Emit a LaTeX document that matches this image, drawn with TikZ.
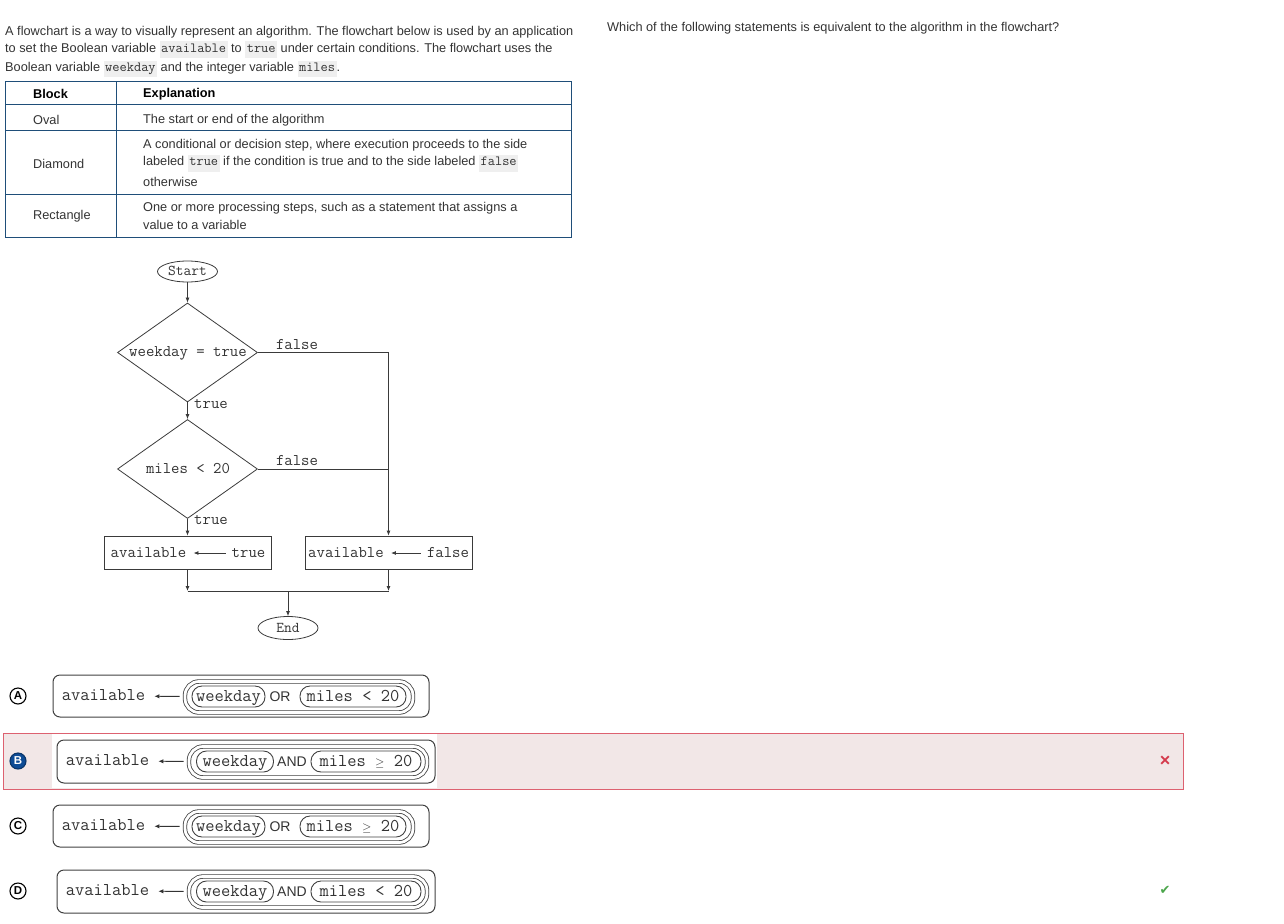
\documentclass[tikz,border=0pt]{standalone}
\usepackage{amsmath,fontspec}
\setmainfont{Liberation Sans}
\newfontfamily\symfont{DejaVu Sans}
\usetikzlibrary{shapes.geometric,arrows.meta,positioning}

\definecolor{txt}{HTML}{333333}
\definecolor{tblline}{HTML}{1F4E79}
\definecolor{codebg}{HTML}{EFEFEF}
\definecolor{wrongfill}{HTML}{F2E7E7}
\definecolor{wrongline}{HTML}{DD6170}
\definecolor{pickblue}{HTML}{0E4C96}
\definecolor{crossred}{HTML}{D4394B}
\definecolor{tickgreen}{HTML}{4CA64C}
\definecolor{flowgray}{HTML}{3A3A3A}

\newcommand{\code}[1]{{\setlength{\fboxsep}{1.5pt}\colorbox{codebg}{\fontsize{14}{14}\ttfamily\strut #1}}}
\newcommand{\smallge}{{\fontsize{13}{13}\selectfont$\ge$}}

\tikzset{
  para/.style={anchor=west,inner sep=0pt,text=txt,font=\fontsize{12.75}{14}\selectfont},
  head/.style={para,text=black,font=\fontsize{12.75}{14}\selectfont\bfseries},
  term/.style={ellipse,draw=flowgray,line width=.8pt,minimum width=60pt,minimum height=21pt,inner sep=0pt,text height=10.5pt,text depth=2pt,text=txt,font=\fontsize{15}{15}\ttfamily},
  decision/.style={diamond,draw=flowgray,line width=.8pt,minimum width=140pt,minimum height=99pt,inner sep=0pt},
  process/.style={rectangle,draw=flowgray,line width=.8pt,minimum width=167pt,minimum height=33pt,inner sep=0pt},
  fctext/.style={inner sep=2pt,text height=11pt,text depth=2pt,text=txt,font=\fontsize{16.3}{16}\ttfamily},
  link/.style={draw=flowgray,line width=.8pt},
  flow/.style={link,-{Latex[length=5pt,width=4pt]}},
  asg/.style={link,-{Latex[length=5pt,width=4pt]},shorten >=5pt,shorten <=4pt},
  optbox/.style={draw=black!75,line width=1pt,rounded corners=7pt,minimum height=42pt,inner sep=0pt},
  pill/.style={draw=black!75,line width=.9pt,rounded corners=10pt,minimum height=21pt,inner sep=0pt,text height=11.5pt,text depth=2.5pt,text=txt,font=\fontsize{18}{18}\ttfamily},
  outerpill/.style={draw=black!75,line width=.8pt,double,double distance=2.8pt,rounded corners=14pt,minimum height=31pt,inner sep=0pt},
  optcode/.style={inner sep=2pt,text height=11.5pt,text depth=2.5pt,text=txt,font=\fontsize{18}{18}\ttfamily},
  optword/.style={inner sep=0pt,text height=12.5pt,text depth=2pt,text=txt,font=\fontsize{14}{14}\selectfont},
  optasg/.style={draw=black!80,line width=.9pt,-{Latex[length=5pt,width=4.5pt]},shorten >=7pt,shorten <=5pt},
  letter/.style={circle,draw=black,line width=1.1pt,minimum size=16pt,inner sep=0pt,font=\fontsize{11.5}{11}\selectfont\bfseries},
}

\begin{document}
\begin{tikzpicture}[x=1pt,y=-1pt]
\path[use as bounding box] (0,0) rectangle (1284,923);

% question text
\node[para] (p1) at (5,32) {A flowchart is a way to visually represent an algorithm. The flowchart below is used by an application};
\node[para] (p2) at (5,50) {to set the Boolean variable \code{available} to \code{true} under certain conditions. The flowchart uses the};
\node[para] (p3) at (5,69) {Boolean variable \code{weekday} and the integer variable \code{miles}.};
\node[para] (ask) at (607,28) {Which of the following statements is equivalent to the algorithm in the flowchart?};

% table
\draw[tblline,line width=1pt] (5,82) rectangle (571,237);
\draw[tblline,line width=1pt] (5,105) -- (571,105);
\draw[tblline,line width=1pt] (5,131) -- (571,131);
\draw[tblline,line width=1pt] (5,194) -- (571,194);
\draw[tblline,line width=1pt] (116,82) -- (116,237);
\node[head] (hBlock) at (33,94) {Block};
\node[head] (hExpl) at (143,94) {Explanation};
\node[para] (cOval) at (33,120) {Oval};
\node[para] (eOval) at (143,120) {The start or end of the algorithm};
\node[para] (cDiamond) at (33,164) {Diamond};
\node[para] (eDiamondA) at (143,145) {A conditional or decision step, where execution proceeds to the side};
\node[para] (eDiamondB) at (143,163) {labeled \code{true} if the condition is true and to the side labeled \code{false}};
\node[para] (eDiamondC) at (143,182) {otherwise};
\node[para] (cRect) at (33,216) {Rectangle};
\node[para] (eRectA) at (143,208) {One or more processing steps, such as a statement that assigns a};
\node[para] (eRectB) at (143,225) {value to a variable};

% flowchart
\node[term] (start) at (187.5,271.5) {Start};
\node[decision] (dWeek) at (187.5,352.5) {};
\node[fctext] (tWeek) at (188,352) {weekday = true};
\node[decision] (dMiles) at (187.5,469) {};
\node[fctext] (tMiles) at (188,469) {miles < 20};
\node[process] (boxT) at (187.5,552.5) {};
\node[fctext] (varT) at (148.5,553) {available};
\node[fctext] (valT) at (248.5,553) {true};
\node[process] (boxF) at (388.5,552.5) {};
\node[fctext] (varF) at (346,553) {available};
\node[fctext] (valF) at (448,553) {false};
\node[term,minimum height=23pt] (end) at (288,628) {End};
\coordinate (jL) at (187.5,591);
\coordinate (jR) at (388.5,591);
\coordinate (jC) at (288,591);

\draw[flow] (start) -- (dWeek);
\draw[flow] (dWeek) -- (dMiles);
\draw[flow] (dMiles) -- (boxT);
\draw[flow] (dWeek.east) -| (boxF);
\draw[link] (dMiles.east) -- (dMiles.east -| boxF);
\draw[asg] (valT) -- (varT);
\draw[asg] (valF) -- (varF);
\draw[flow] (boxT) -- (jL);
\draw[flow] (boxF) -- (jR);
\draw[link] (jL) -- (jR);
\draw[flow] (jC) -- (end);
\node[fctext] (fWeek) at (297,345) {false};
\node[fctext] (sWeek) at (211,404) {true};
\node[fctext] (fMiles) at (297,461) {false};
\node[fctext] (sMiles) at (211,520) {true};

% wrong answer band
\draw[wrongline,fill=wrongfill,line width=1pt] (3,733) rectangle (1183,789);
\fill[white] (52,734) rectangle (437,788);

% option A
\node[letter] (kA) at (18,696) {A};
\node[optbox,minimum width=376pt] (boxA) at (241,696) {};
\node[optcode] (varA) at (103.5,696) {available};
\node[outerpill,minimum width=228pt] (gA) at (299,697) {};
\node[pill,minimum width=73pt] (wA) at (228.5,696.5) {weekday};
\node[optword] (opA) at (280,696) {OR};
\node[pill,minimum width=106pt] (mA) at (353,696.5) {miles < 20};
\draw[optasg] (gA) -- (varA);

% option B
\node[letter,fill=pickblue,draw=pickblue!70!black,text=white] (kB) at (18,761) {B};
\node[optbox,minimum width=378pt,minimum height=43pt] (boxB) at (246,761.5) {};
\node[optcode] (varB) at (107.5,761) {available};
\node[outerpill,minimum width=238pt] (gB) at (308,762) {};
\node[pill,minimum width=77pt] (wB) at (235,761.5) {weekday};
\node[optword] (opB) at (292,761) {AND};
\node[pill,minimum width=110pt] (mB) at (366,761.5) {miles \smallge{} 20};
\draw[optasg] (gB) -- (varB);
\node[text=crossred,inner sep=0pt,font=\fontsize{18}{18}\selectfont\bfseries] (cross) at (1165,761) {×};

% option C
\node[letter] (kC) at (18,826) {C};
\node[optbox,minimum width=376pt] (boxC) at (241,826) {};
\node[optcode] (varC) at (103.5,826) {available};
\node[outerpill,minimum width=228pt] (gC) at (299,827) {};
\node[pill,minimum width=73pt] (wC) at (228.5,826.5) {weekday};
\node[optword] (opC) at (280,826) {OR};
\node[pill,minimum width=106pt] (mC) at (353,826.5) {miles \smallge{} 20};
\draw[optasg] (gC) -- (varC);

% option D
\node[letter] (kD) at (18,891) {D};
\node[optbox,minimum width=378pt,minimum height=43pt] (boxD) at (246,891.5) {};
\node[optcode] (varD) at (107.5,891) {available};
\node[outerpill,minimum width=238pt] (gD) at (308,892) {};
\node[pill,minimum width=77pt] (wD) at (235,891.5) {weekday};
\node[optword] (opD) at (292,891) {AND};
\node[pill,minimum width=110pt] (mD) at (366,891.5) {miles < 20};
\draw[optasg] (gD) -- (varD);
\node[text=tickgreen,inner sep=0pt,font=\symfont\fontsize{13}{13}\selectfont] (tick) at (1165,890) {✔};
\end{tikzpicture}
\end{document}
